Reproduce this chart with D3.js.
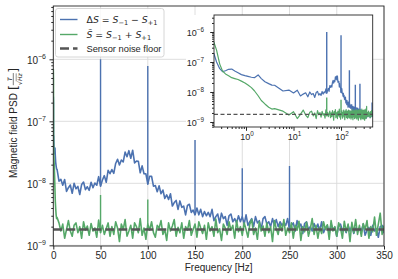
<!DOCTYPE html>
<html>
<head>
<meta charset="utf-8">
<script src="https://cdn.jsdelivr.net/npm/d3@7"></script>
<style>
  body { margin: 0; background: #fff; }
  svg { display: block; font-family: "Liberation Sans", Arial, sans-serif; }
</style>
</head>
<body>
<svg id="chart" width="398" height="279"></svg>
<script>
// frequency grid (Hz): a few low points, a 2 Hz grid, then a sparse tail for the inset
const lowFreqs = [0, 0.21, 0.24, 0.28, 0.32, 0.37, 0.43, 0.5, 0.58, 0.68, 0.8, 0.95, 1.1, 1.3, 1.5, 1.8, 2.1, 2.5, 3.0, 3.5];
const gridStart = 4, gridEnd = 350, gridStep = 2;
const tailFreqs = [360, 370, 380, 390, 400, 410, 420, 430, 440, 450, 460];

// PSD values in units of 1e-9 T/sqrt(Hz)
// delta S = S-1 - S+1
const diffLow = [250, 195, 100, 60, 48, 51, 57, 58, 50, 44, 38, 35, 33, 31, 30, 37, 28, 22, 19, 17];
const diffGrid = [
  16.8, 10.8, 11.6, 9.3, 11.5, 7.4, 8.5, 9.4, 6.9, 10.0,
  8.2, 8.9, 6.6, 9.6, 10.5, 7.9, 8.8, 7.7, 10.4, 8.5,
  10.1, 9.3, 12.8, 9.0, 11.3, 13.3, 10.4, 16.2, 14.3, 16.7,
  14.5, 20.9, 24.4, 19.8, 23.8, 22.1, 31.9, 26.8, 33.6, 25.4,
  34.2, 21.3, 22.8, 22.7, 14.8, 19.1, 14.3, 14.2, 9.7, 13.0,
  13.0, 9.0, 9.2, 7.3, 9.1, 6.8, 7.8, 5.7, 6.5, 5.5,
  6.8, 4.3, 4.9, 5.3, 3.8, 5.2, 4.1, 4.3, 3.1, 4.4,
  4.6, 3.4, 3.7, 3.1, 4.0, 3.1, 3.8, 2.9, 3.5, 3.0,
  3.4, 2.9, 3.8, 2.5, 2.9, 3.2, 2.3, 3.3, 2.7, 2.9,
  2.1, 3.0, 3.2, 2.4, 2.7, 2.3, 3.0, 2.4, 2.9, 2.2,
  3.1, 2.1, 2.4, 2.7, 2.0, 2.9, 2.3, 2.5, 1.8, 2.7,
  2.9, 2.2, 2.4, 2.0, 2.7, 2.1, 2.6, 2.0, 2.4, 2.1,
  2.3, 2.1, 2.7, 1.8, 2.1, 2.3, 1.7, 2.5, 2.0, 2.2,
  1.55, 2.25, 2.4, 1.8, 2.0, 1.7, 2.25, 1.8, 2.2, 1.7,
  2.4, 1.6, 1.9, 2.1, 1.55, 2.2, 1.8, 1.95, 1.4, 2.1,
  2.2, 1.7, 1.85, 1.6, 2.1, 1.7, 2.05, 1.55, 1.9, 1.7,
  1.9, 1.7, 2.2, 1.45, 1.75, 1.95, 1.45, 2.1, 1.7, 1.85,
  1.35, 2.0, 2.1, 1.6
];
const diffTail = [1.8, 1.5, 2.0, 1.6, 1.9, 1.4, 2.1, 1.7, 1.9, 1.5, 1.8];

// S~ = S-1 + S+1
const sumLow = [700, 470, 250, 85, 50, 40, 35, 30, 28, 26, 23, 20, 17, 14, 11, 7.5, 5.2, 4.0, 3.1, 2.7];
const sumGrid = [
  2.8, 2.3, 1.7, 2.2, 1.3, 1.8, 2.5, 1.7, 1.4, 2.1,
  2.3, 1.6, 2.0, 1.3, 2.4, 1.75, 2.05, 1.45, 2.25, 1.7,
  1.9, 1.35, 2.55, 1.6, 2.1, 1.5, 1.85, 2.3, 1.4, 2.0,
  1.5, 2.4, 1.9, 1.15, 2.2, 1.8, 2.6, 1.4, 1.7, 2.1,
  1.3, 2.3, 2.0, 1.6, 2.7, 1.45, 1.9, 1.25, 2.2, 1.75,
  2.4, 1.6, 1.35, 2.1, 1.9, 2.5, 1.5, 1.8, 1.2, 2.3,
  1.7, 2.05, 2.6, 1.4, 1.95, 1.6, 2.3, 1.3, 2.0, 1.75,
  2.5, 1.45, 1.8, 2.2, 1.35, 2.4, 1.9, 1.55, 2.1, 1.25,
  2.3, 1.7, 2.0, 1.4, 2.65, 1.6, 1.85, 1.2, 2.2, 1.9,
  1.5, 2.4, 1.75, 2.1, 1.3, 2.5, 1.65, 2.0, 1.45, 2.3,
  1.8, 1.35, 2.2, 2.6, 1.5, 1.9, 1.25, 2.4, 1.7, 2.05,
  1.4, 2.3, 1.6, 2.0, 1.15, 2.5, 1.85, 1.5, 2.2, 1.7,
  2.6, 1.45, 1.9, 1.6, 2.3, 1.3, 2.1, 1.75, 2.45, 1.2,
  2.0, 1.65, 2.35, 1.4, 1.85, 2.7, 1.5, 2.1, 1.3, 1.95,
  1.55, 2.4, 1.8, 2.15, 1.25, 2.5, 1.7, 2.0, 1.4, 2.3,
  1.9, 1.3, 2.45, 1.65, 2.2, 1.15, 2.35, 1.6, 2.6, 1.5,
  2.1, 1.4, 2.25, 1.8, 2.5, 1.3, 2.0, 1.65, 2.85, 1.45,
  2.2, 3.3, 1.5, 2.05
];
const sumTail = [2.1, 1.5, 2.3, 1.6, 2.0, 1.4, 2.2, 1.7, 2.4, 1.5, 2.0];

// narrow line peaks (Hz) and their tops (1e-9 T/sqrt(Hz))
const diffSpikeFreqs = [50, 100, 150, 200, 250, 450];
const diffSpikeTops = [1000, 780, 53, 17.5, 19, 4.5];
const sumSpikeFreqs = [50, 100];
const sumSpikeTops = [6.5, 5.5];
const noiseFloor = 1.8;

const xTicks = [0, 50, 100, 150, 200, 250, 300, 350];
const yDecades = [-9, -8, -7, -6];
const insetYDecades = [-9, -8, -7, -6];
const insetXDecades = [0, 1, 2];

const legendItems = ["diff", "sum", "floor"];

const blue = "#4c72b0", green = "#55a868", floorColor = "#555555", ink = "#262626";

const svg = d3.select("#chart");
const plot = { left: 53.3, right: 384, top: 6, bottom: 246 };
const ins = { left: 214, right: 372.7, top: 15, bottom: 127 };

const freqs = lowFreqs.concat(d3.range(gridStart, gridEnd + 1, gridStep), tailFreqs);
const toSeries = vals => freqs.map((f, i) => ({ f: f, v: vals[i] * 1e-9 }));
const diffSeries = toSeries(diffLow.concat(diffGrid, diffTail));
const sumSeries = toSeries(sumLow.concat(sumGrid, sumTail));

function spikes(series, fs, tops) {
  return fs.map((f, i) => ({ f: f, lo: series.find(d => d.f === f).v, hi: tops[i] * 1e-9 }));
}
const diffSpikes = spikes(diffSeries, diffSpikeFreqs, diffSpikeTops);
const sumSpikes = spikes(sumSeries, sumSpikeFreqs, sumSpikeTops);

const isMajor = d => Math.abs(Math.log10(d) - Math.round(Math.log10(d))) < 1e-6;
const minus = n => (n < 0 ? "\u2212" : "") + Math.abs(n);

// ---------- main axes ----------
const x = d3.scaleLinear().domain([0, 350]).range([plot.left, plot.right]);
const y = d3.scaleLog().domain([Math.pow(10, -9.011), Math.pow(10, -5.14)]).range([plot.bottom, plot.top]);

const grid = svg.append("g").attr("stroke", "#d9d9d9").attr("stroke-width", 0.9);
grid.selectAll(".gx").data(xTicks).join("line")
  .attr("x1", d => x(d)).attr("x2", d => x(d))
  .attr("y1", plot.top).attr("y2", plot.bottom);
grid.selectAll(".gy").data(yDecades).join("line")
  .attr("x1", plot.left).attr("x2", plot.right)
  .attr("y1", d => y(Math.pow(10, d))).attr("y2", d => y(Math.pow(10, d)));

svg.append("clipPath").attr("id", "clipMain").append("rect")
  .attr("x", plot.left).attr("y", plot.top)
  .attr("width", plot.right - plot.left).attr("height", plot.bottom - plot.top);

function drawData(g, xs, ys, width) {
  const line = d3.line().x(d => xs(d.f)).y(d => ys(d.v));
  const pos = d => d.f > 0 || xs === x;
  g.append("path").datum(diffSeries.filter(pos)).attr("d", line)
    .attr("fill", "none").attr("stroke", blue).attr("stroke-width", width).attr("stroke-linejoin", "round");
  g.selectAll(".ds").data(diffSpikes).join("line")
    .attr("x1", d => xs(d.f)).attr("x2", d => xs(d.f))
    .attr("y1", d => ys(d.lo)).attr("y2", d => ys(d.hi))
    .attr("stroke", blue).attr("stroke-width", 1.4);
  g.append("path").datum(sumSeries.filter(pos)).attr("d", line)
    .attr("fill", "none").attr("stroke", green).attr("stroke-width", width).attr("stroke-linejoin", "round");
  g.selectAll(".ss").data(sumSpikes).join("line")
    .attr("x1", d => xs(d.f)).attr("x2", d => xs(d.f))
    .attr("y1", d => ys(d.lo)).attr("y2", d => ys(d.hi))
    .attr("stroke", green).attr("stroke-width", 1.4);
}

const mainG = svg.append("g").attr("clip-path", "url(#clipMain)");
drawData(mainG, x, y, 1.6);
mainG.append("line")
  .attr("x1", plot.left).attr("x2", plot.right)
  .attr("y1", y(noiseFloor * 1e-9)).attr("y2", y(noiseFloor * 1e-9))
  .attr("stroke", floorColor).attr("stroke-width", 2.6).attr("stroke-dasharray", "9,4");

svg.append("rect").attr("x", plot.left).attr("y", plot.top)
  .attr("width", plot.right - plot.left).attr("height", plot.bottom - plot.top)
  .attr("fill", "none").attr("stroke", ink).attr("stroke-width", 0.9);

const xAxis = svg.append("g").attr("transform", `translate(0,${plot.bottom})`)
  .call(d3.axisBottom(x).tickValues(xTicks).tickSize(3.5).tickPadding(2).tickSizeOuter(0));
xAxis.select(".domain").remove();
xAxis.attr("font-family", null);
xAxis.selectAll("line").attr("stroke", ink);
xAxis.selectAll("text").attr("font-size", 10).attr("fill", ink);

const yAxis = svg.append("g").attr("transform", `translate(${plot.left},0)`)
  .call(d3.axisLeft(y).tickValues(y.ticks()).tickFormat("").tickSize(2).tickSizeOuter(0));
yAxis.select(".domain").remove();
yAxis.selectAll("line").attr("stroke", ink);
yAxis.selectAll(".tick line").filter(isMajor).attr("x2", -3.8);

svg.append("g").selectAll("text").data(yDecades).join("text")
  .attr("x", 46).attr("y", d => y(Math.pow(10, d)) + 4.2)
  .attr("text-anchor", "end").attr("font-size", 10).attr("fill", ink)
  .each(function (d) {
    const t = d3.select(this);
    t.append("tspan").text("10");
    t.append("tspan").attr("font-size", 7).attr("dy", -4.8).text(minus(d));
  });

svg.append("text").attr("x", (plot.left + plot.right) / 2).attr("y", 270.5)
  .attr("text-anchor", "middle").attr("font-size", 10).attr("fill", ink)
  .text("Frequency [Hz]");

// y label with the T / sqrt(Hz) fraction
const ylab = svg.append("g").attr("transform", "translate(16.5,123) rotate(-90)");
const yin = ylab.append("g").attr("fill", ink);
const ytxt = yin.append("text").attr("font-size", 10).text("Magnetic field PSD");
let w = ytxt.node().getComputedTextLength() + 3;
const lb = yin.append("text").attr("x", w).attr("y", 1.5).attr("font-size", 12.5)
  .attr("font-family", "DejaVu Sans").text("[");
w += lb.node().getComputedTextLength() + 0.3;
const den = yin.append("text").attr("x", w).attr("y", 5).attr("font-size", 6)
  .attr("font-family", "DejaVu Sans");
den.append("tspan").text("\u221a");
den.append("tspan").attr("font-style", "italic").text("Hz");
const dw = den.node().getComputedTextLength();
yin.append("line").attr("x1", w + 3.6).attr("x2", w + dw).attr("y1", -0.3).attr("y2", -0.3)
  .attr("stroke", ink).attr("stroke-width", 0.5);
yin.append("line").attr("x1", w - 0.3).attr("x2", w + dw + 0.3).attr("y1", -3.2).attr("y2", -3.2)
  .attr("stroke", ink).attr("stroke-width", 0.6);
yin.append("text").attr("x", w + dw / 2).attr("y", -4.4).attr("font-size", 6)
  .attr("font-family", "DejaVu Sans").attr("font-style", "italic")
  .attr("text-anchor", "middle").text("T");
w += dw + 0.6;
const rb = yin.append("text").attr("x", w).attr("y", 1.5).attr("font-size", 12.5)
  .attr("font-family", "DejaVu Sans").text("]");
w += rb.node().getComputedTextLength();
yin.attr("transform", `translate(${-w / 2},0)`);

// ---------- legend ----------
const leg = svg.append("g");
leg.append("rect").attr("x", 55.5).attr("y", 8.5).attr("width", 108.5).attr("height", 48.5)
  .attr("rx", 2.5).attr("fill", "#fff").attr("fill-opacity", 0.85)
  .attr("stroke", "#cccccc").attr("stroke-width", 0.8);
const legRows = { diff: 19.5, sum: 34.5, floor: 48.5 };
const legStyle = {
  diff: { c: blue, w: 1.4, dash: null },
  sum: { c: green, w: 1.4, dash: null },
  floor: { c: floorColor, w: 2.6, dash: "9,4" }
};
legendItems.forEach(k => {
  const yy = legRows[k], s = legStyle[k];
  leg.append("line").attr("x1", 60).attr("x2", 77.5).attr("y1", yy).attr("y2", yy)
    .attr("stroke", s.c).attr("stroke-width", s.w).attr("stroke-dasharray", s.dash);
});
function mathText(yy, parts) {
  const t = leg.append("text").attr("x", 86.5).attr("y", yy + 3.3).attr("font-size", 9.3)
    .attr("fill", ink).attr("font-family", "DejaVu Sans");
  let shift = 0;
  parts.forEach(p => {
    const ts = t.append("tspan").text(p[0]);
    const want = p[1] === "sub" ? 2.2 : 0;
    if (want !== shift) { ts.attr("dy", want - shift); shift = want; }
    if (p[1] === "i" || p[1] === "sub") ts.attr("font-style", p[1] === "i" ? "italic" : null);
    if (p[1] === "sub") ts.attr("font-size", 6.6);
  });
}
mathText(legRows.diff, [["\u0394", "r"], ["S", "i"], [" = ", "r"], ["S", "i"], ["\u22121", "sub"],
  [" \u2212 ", "r"], ["S", "i"], ["+1", "sub"]]);
mathText(legRows.sum, [["S\u0303", "i"], [" = ", "r"], ["S", "i"], ["\u22121", "sub"],
  [" + ", "r"], ["S", "i"], ["+1", "sub"]]);
leg.append("text").attr("x", 86.5).attr("y", legRows.floor + 3.3).attr("font-size", 9.3)
  .attr("fill", ink).text("Sensor noise floor");

// ---------- inset ----------
const xi = d3.scaleLog().domain([0.212, 464]).range([ins.left, ins.right]);
const yi = d3.scaleLog().domain([Math.pow(10, -9.167), Math.pow(10, -5.433)]).range([ins.bottom, ins.top]);

svg.append("rect").attr("x", 186).attr("y", ins.top).attr("width", ins.right - 186)
  .attr("height", 140 - ins.top).attr("fill", "#fff");

svg.append("clipPath").attr("id", "clipInset").append("rect")
  .attr("x", ins.left).attr("y", ins.top)
  .attr("width", ins.right - ins.left).attr("height", ins.bottom - ins.top);
const insG = svg.append("g").attr("clip-path", "url(#clipInset)");
drawData(insG, xi, yi, 1.2);
insG.append("line")
  .attr("x1", ins.left).attr("x2", ins.right)
  .attr("y1", yi(noiseFloor * 1e-9)).attr("y2", yi(noiseFloor * 1e-9))
  .attr("stroke", floorColor).attr("stroke-width", 1.1).attr("stroke-dasharray", "4,2.5");

svg.append("rect").attr("x", ins.left).attr("y", ins.top)
  .attr("width", ins.right - ins.left).attr("height", ins.bottom - ins.top)
  .attr("fill", "none").attr("stroke", ink).attr("stroke-width", 0.9);

const xiAxis = svg.append("g").attr("transform", `translate(0,${ins.bottom})`)
  .call(d3.axisBottom(xi).tickValues(xi.ticks()).tickFormat("").tickSize(2).tickSizeOuter(0));
xiAxis.select(".domain").remove();
xiAxis.selectAll("line").attr("stroke", ink);
xiAxis.selectAll(".tick line").filter(isMajor).attr("y2", 3.8);

const yiAxis = svg.append("g").attr("transform", `translate(${ins.left},0)`)
  .call(d3.axisLeft(yi).tickValues(yi.ticks()).tickFormat("").tickSize(2).tickSizeOuter(0));
yiAxis.select(".domain").remove();
yiAxis.selectAll("line").attr("stroke", ink);
yiAxis.selectAll(".tick line").filter(isMajor).attr("x2", -3.8);

svg.append("g").selectAll("text").data(insetYDecades).join("text")
  .attr("x", 204).attr("y", d => yi(Math.pow(10, d)) + 4)
  .attr("text-anchor", "end").attr("font-size", 9).attr("fill", ink)
  .each(function (d) {
    const t = d3.select(this);
    t.append("tspan").text("10");
    t.append("tspan").attr("font-size", 6.3).attr("dy", -4.3).text(minus(d));
  });
svg.append("g").selectAll("text").data(insetXDecades).join("text")
  .attr("x", d => xi(Math.pow(10, d)) + 1).attr("y", 140)
  .attr("text-anchor", "middle").attr("font-size", 9).attr("fill", ink)
  .each(function (d) {
    const t = d3.select(this);
    t.append("tspan").text("10");
    t.append("tspan").attr("font-size", 6.3).attr("dy", -4.3).text(minus(d));
  });
</script>
</body>
</html>
